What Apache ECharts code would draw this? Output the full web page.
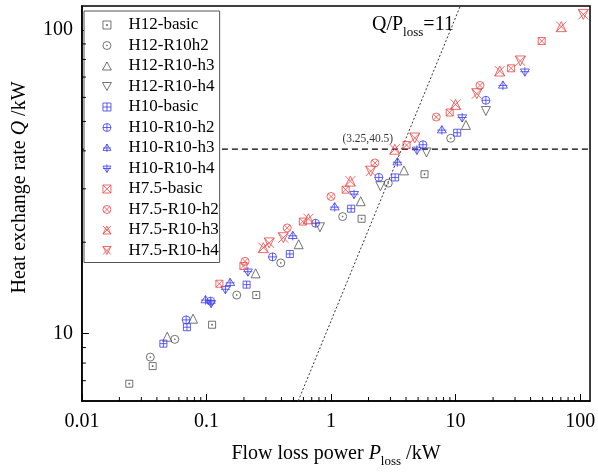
<!DOCTYPE html>
<html>
<head>
<meta charset="utf-8">
<script src="https://cdn.jsdelivr.net/npm/echarts@6/dist/echarts.min.js"></script>
<style>
html,body{margin:0;padding:0;background:#fff;}
#chart{width:598px;height:473px;}
</style>
</head>
<body>
<div id="chart"></div>
<script>
var FONT = '"Liberation Serif", "Times New Roman", serif';

// axis ranges and tick labels
var xMin = 0.01, xMax = 120;
var yMin = 6, yMax = 120;
var xTickLabels = ['0.01', '0.1', '1', '10', '100'];   // 10^-2 .. 10^2
var yTickLabels = ['10', '100'];                        // 10^1 .. 10^2
var xMinorTicks = [0.02,0.03,0.04,0.05,0.06,0.07,0.08,0.09,
                   0.2,0.3,0.4,0.5,0.6,0.7,0.8,0.9,
                   2,3,4,5,6,7,8,9,
                   20,30,40,50,60,70,80,90];
var yMinorTicks = [7,8,9,20,30,40,50,60,70,80,90];

// [P_loss (kW), Q (kW)]
var h12Basic = [[0.024,6.84],[0.037,7.82],[0.111,10.7],[0.251,13.4],[1.76,23.9],[5.63,33.5]];
var h12R10h2 = [[0.0354,8.37],[0.0557,9.58],[0.175,13.4],[0.395,17.1],[1.24,24.3],[2.88,31.3],[9.14,44.0]];
var h12R10h3 = [[0.0484,9.77],[0.078,11.2],[0.248,15.8],[0.55,19.7],[1.73,27.3],[3.85,34.5],[12.1,48.7]];
var h12R10h4 = [[0.815,22.4],[2.49,30.6],[5.84,39.5],[17.5,54.1]];
var h10Basic = [[0.0451,9.27],[0.0697,10.5],[0.21,14.5],[0.467,18.3],[1.45,25.8],[3.27,32.7],[10.3,45.9]];
var h10R10h2 = [[0.0687,11.1],[0.108,12.8],[0.339,17.9],[0.751,23.1],[2.42,32.7],[5.47,41.9],[17.5,58.7]];
var h10R10h3 = [[0.0982,12.9],[0.155,14.7],[0.493,21.0],[1.07,26.1],[3.41,36.7],[7.76,46.8],[24.0,65.7]];
var h10R10h4 = [[0.109,12.6],[0.142,14.0],[0.215,16.0],[1.53,28.8],[4.89,40.3],[11.3,51.5],[36.0,72.9]];
var h75Basic = [[0.127,14.6],[0.198,16.7],[0.594,23.4],[1.31,29.8],[4.04,41.8],[8.97,53.5],[27.9,74.8],[49.1,92.0]];
var h75R10h2 = [[0.204,17.3],[0.445,22.3],[1.0,28.3],[2.25,36.5],[7.0,51.7],[15.7,65.7]];
var h75R10h3 = [[0.286,19.2],[0.659,23.9],[1.43,31.8],[3.25,40.5],[10.0,56.9],[22.6,73.3],[70.5,102.6]];
var h75R10h4 = [[0.319,19.9],[0.414,20.7],[2.08,34.3],[4.70,44.1],[14.8,61.7],[33.1,79.1],[106,112.6]];

// reference lines
var ratioLine = [[0.545,6],[10.91,120]];     // Q/P_loss = 11
var qLevel = [[xMin,40.5],[xMax,40.5]];      // Q = 40.5
var markPt = [[3.25,40.5]];

// marker shapes
var CIRC = 'M0,5A5,5 0 1 1 10,5A5,5 0 1 1 0,5Z';
var SQ = 'M0,0L10,0L10,10L0,10Z';
var symSquareDot = 'path://' + SQ + ' M4.3,4.3L5.7,4.3L5.7,5.7L4.3,5.7Z';
var symCircleDot = 'path://' + CIRC + ' M4.4,5A0.6,0.6 0 1 1 5.6,5A0.6,0.6 0 1 1 4.4,5Z';
var symTri = 'path://M5,0L10,9L0,9Z';
var symTriDown = 'path://M0,0L10,0L5,9Z';
var symSquarePlus = 'path://' + SQ + ' M5,0L5,10 M0,5L10,5';
var symCirclePlus = 'path://' + CIRC + ' M5,0L5,10 M0,5L10,5';
var symTriPlus = 'path://M5,0L10,8L0,8Z M5,0L5,10 M0,5L10,5';
var symTriDownPlus = 'path://M0,2L10,2L5,10Z M5,0L5,10 M0,5L10,5';
var symSquareX = 'path://' + SQ + ' M0,0L10,10 M10,0L0,10';
var symCircleX = 'path://' + CIRC + ' M1.46,1.46L8.54,8.54 M8.54,1.46L1.46,8.54';
var symTriX = 'path://M5,0L10,10L0,10Z M0,0L10,10 M10,0L0,10';
var symTriDownX = 'path://M0,0L10,0L5,10Z M0,0L10,10 M10,0L0,10';

var gray = '#505050', blue = '#3a3af0', red = '#ee4545';

var groups = [
  {name:'H12-basic',     data:h12Basic, symbol:symSquareDot,   color:gray, size:7},
  {name:'H12-R10h2',     data:h12R10h2, symbol:symCircleDot,   color:gray, size:8},
  {name:'H12-R10-h3',    data:h12R10h3, symbol:symTri,         color:gray, size:9},
  {name:'H12-R10-h4',    data:h12R10h4, symbol:symTriDown,     color:gray, size:9},
  {name:'H10-basic',     data:h10Basic, symbol:symSquarePlus,  color:blue, size:7},
  {name:'H10-R10-h2',    data:h10R10h2, symbol:symCirclePlus,  color:blue, size:8},
  {name:'H10-R10-h3',    data:h10R10h3, symbol:symTriPlus,     color:blue, size:9},
  {name:'H10-R10-h4',    data:h10R10h4, symbol:symTriDownPlus, color:blue, size:9},
  {name:'H7.5-basic',    data:h75Basic, symbol:symSquareX,     color:red,  size:7},
  {name:'H7.5-R10-h2',   data:h75R10h2, symbol:symCircleX,     color:red,  size:8},
  {name:'H7.5-R10-h3',   data:h75R10h3, symbol:symTriX,        color:red,  size:10},
  {name:'H7.5-R10-h4',   data:h75R10h4, symbol:symTriDownX,    color:red,  size:10}
];

function decadeLabel(labels, firstExp) {
  return function (v) {
    var l = Math.log10(v), e = Math.round(l);
    if (Math.abs(l - e) > 1e-6) return '';
    return labels[e - firstExp] || '';
  };
}

var series = [];
series.push({
  type:'line', data:qLevel, symbol:'none', silent:true, z:1,
  lineStyle:{color:'#000', width:1.2, type:[6,4]}
});
series.push({
  type:'line', data:ratioLine, symbol:'none', silent:true, z:1,
  lineStyle:{color:'#333', width:1, type:[2,2]}
});
groups.forEach(function (g) {
  series.push({
    name:g.name, type:'scatter', data:g.data, symbol:g.symbol, symbolSize:g.size,
    itemStyle:{color:'transparent', borderColor:g.color, borderWidth:1},
    z:3
  });
});
series.push({
  type:'scatter', data:markPt, symbolSize:0, silent:true, z:4,
  label:{show:true, position:'top', distance:4, offset:[-27,0], formatter:'(3.25,40.5)',
         fontFamily:FONT, fontSize:11.5, color:'#000'}
});
// minor ticks (log spaced), drawn through the axes
series.push({
  type:'custom', silent:true, clip:false, z:5,
  data:xMinorTicks.map(function (v) { return [v, yMin]; }),
  renderItem:function (params, api) {
    var p = api.coord([api.value(0), api.value(1)]);
    return {type:'line', shape:{x1:p[0], y1:p[1], x2:p[0], y2:p[1]-4}, style:{stroke:'#000', lineWidth:1}};
  }
});
series.push({
  type:'custom', silent:true, clip:false, z:5,
  data:yMinorTicks.map(function (v) { return [xMin, v]; }),
  renderItem:function (params, api) {
    var p = api.coord([api.value(0), api.value(1)]);
    return {type:'line', shape:{x1:p[0], y1:p[1], x2:p[0]+4, y2:p[1]}, style:{stroke:'#000', lineWidth:1}};
  }
});

var myChart = echarts.init(document.getElementById('chart'), null, {renderer:'canvas'});

var option = {
  animation:false,
  backgroundColor:'#fff',
  grid:{left:74, right:6, top:6, bottom:72, show:true, borderColor:'#000', borderWidth:1.5, backgroundColor:'transparent'},
  legend:{
    orient:'vertical', left:84, top:11, padding:[4,1,2,18],
    itemWidth:33, itemHeight:8, itemGap:0.5,
    borderColor:'#555', borderWidth:1, backgroundColor:'#fff',
    textStyle:{fontFamily:FONT, fontSize:17, color:'#000', lineHeight:20},
    itemStyle:{borderWidth:1},
    data:groups.map(function (g) { return g.name; })
  },
  xAxis:{
    type:'log', logBase:10, min:xMin, max:xMax,
    name:'Flow loss power {i|P}{s|loss} /kW', nameLocation:'middle', nameGap:39,
    nameTextStyle:{fontFamily:FONT, fontSize:20, color:'#000', lineHeight:28,
      rich:{i:{fontFamily:FONT, fontSize:20, fontStyle:'italic', lineHeight:28},
            s:{fontFamily:FONT, fontSize:13, verticalAlign:'bottom', lineHeight:13}}},
    axisLine:{lineStyle:{color:'#000', width:1.5}},
    axisTick:{inside:true, length:7, lineStyle:{color:'#000', width:1}},
    axisLabel:{fontFamily:FONT, fontSize:20, color:'#000', margin:11, showMaxLabel:false,
               formatter:decadeLabel(xTickLabels, -2)},
    splitLine:{show:false}
  },
  yAxis:{
    type:'log', logBase:10, min:yMin, max:yMax,
    name:'Heat exchange rate {i|Q} /kW', nameLocation:'middle', nameGap:42,
    nameTextStyle:{fontFamily:FONT, fontSize:20, color:'#000', lineHeight:24, padding:[0,0,0,32],
      rich:{i:{fontFamily:FONT, fontSize:20, fontStyle:'italic', lineHeight:24}}},
    axisLine:{lineStyle:{color:'#000', width:1.5}},
    axisTick:{inside:true, length:7, lineStyle:{color:'#000', width:1}},
    axisLabel:{fontFamily:FONT, fontSize:20, color:'#000', margin:9, showMinLabel:false, showMaxLabel:false,
               formatter:decadeLabel(yTickLabels, 1)},
    splitLine:{show:false}
  },
  graphic:[{
    type:'text', left:372, top:11, z:10,
    style:{text:'Q/P{s|loss}=11', fontFamily:FONT, fontSize:20, fill:'#000', lineHeight:28,
      rich:{s:{fontFamily:FONT, fontSize:13, verticalAlign:'bottom', lineHeight:13}}}
  }],
  series:series
};

myChart.setOption(option);
</script>
</body>
</html>
